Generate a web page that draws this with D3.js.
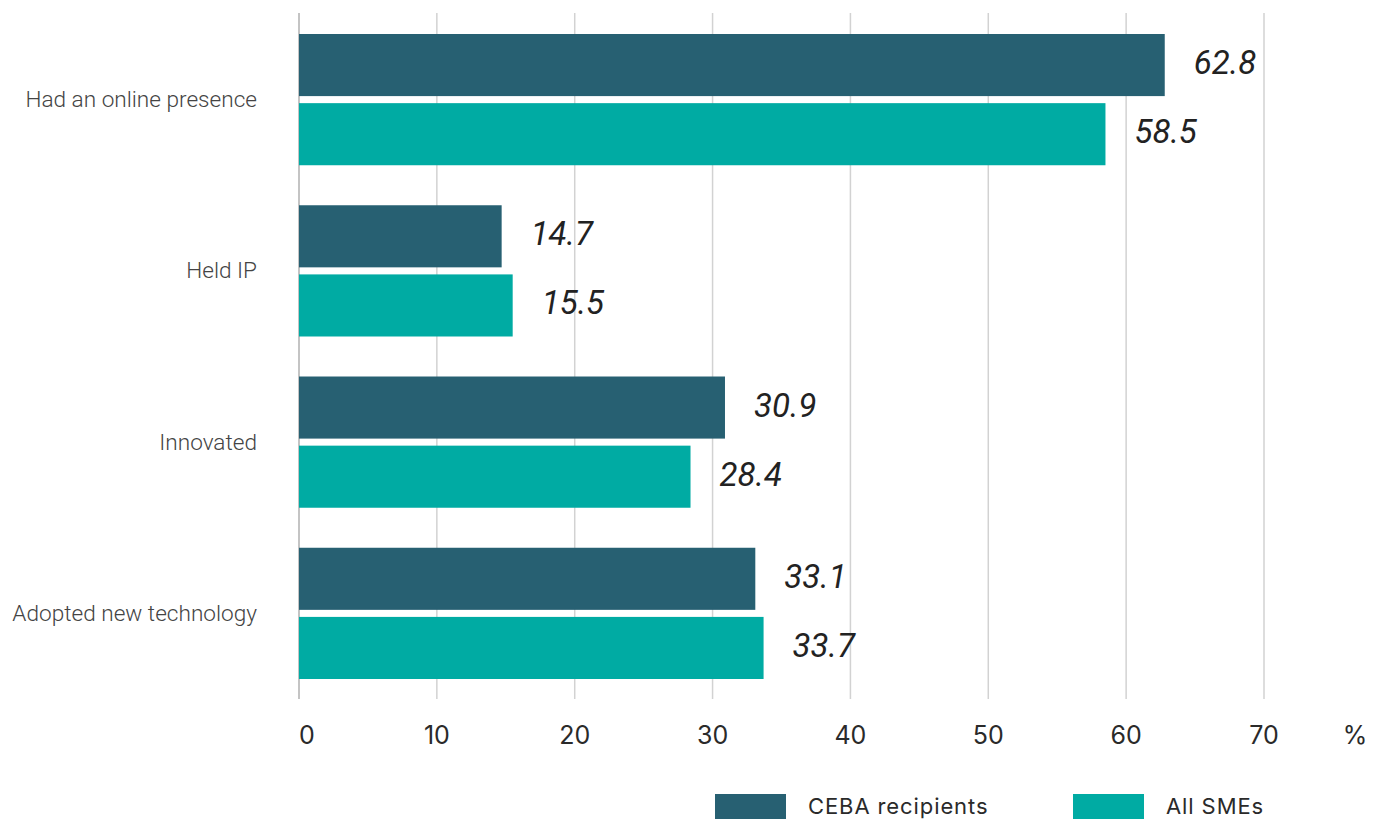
<!DOCTYPE html>
<html>
<head>
<meta charset="utf-8">
<script src="https://cdn.jsdelivr.net/npm/d3@7"></script>
<style>
  html, body { margin: 0; padding: 0; background: #fff; }
  svg { display: block; }
</style>
</head>
<body>
<svg id="chart" width="1382" height="819"></svg>
<script>
// Share of businesses reporting each activity, by group (%)
const categories = ["Had an online presence", "Held IP", "Innovated", "Adopted new technology"];
const seriesNames = ["CEBA recipients", "All SMEs"];
const cebaValues = [62.8, 14.7, 30.9, 33.1];
const smeValues = [58.5, 15.5, 28.4, 33.7];
const tickValues = [0, 10, 20, 30, 40, 50, 60, 70];
const seriesColors = ["#276072", "#00aba3"];

const rows = categories.map((c, i) => ({
  category: c,
  values: [
    { series: seriesNames[0], value: cebaValues[i] },
    { series: seriesNames[1], value: smeValues[i] }
  ]
}));

const svg = d3.select("#chart");

const x = d3.scaleLinear().domain([0, 70]).range([299, 1264]);
const y = d3.scaleBand().domain(categories).range([14, 699])
  .paddingInner(0.2336).paddingOuter(0.1168);
const ySub = d3.scaleBand().domain(seriesNames).range([0, y.bandwidth()])
  .paddingInner(0.102).paddingOuter(0);
const color = d3.scaleOrdinal().domain(seriesNames).range(seriesColors);

// vertical gridlines
svg.append("g").selectAll("line").data(tickValues).join("line")
  .attr("x1", d => x(d)).attr("x2", d => x(d))
  .attr("y1", 13).attr("y2", 699)
  .attr("stroke", d => d === 0 ? "#c4c4c4" : "#d2d2d2")
  .attr("stroke-width", d => d === 0 ? 2 : 1.5);

// tick labels along the bottom
svg.append("g").selectAll("text").data(tickValues).join("text")
  .attr("x", d => x(d))
  .attr("y", 744)
  .attr("text-anchor", d => d === 0 ? "start" : "middle")
  .attr("font-family", "Inter, 'Open Sans', sans-serif")
  .attr("font-size", 25)
  .attr("fill", "#2a2a2a")
  .text(d => d);

svg.append("text")
  .attr("x", 1355).attr("y", 744)
  .attr("text-anchor", "middle")
  .attr("font-family", "Inter, 'Open Sans', sans-serif")
  .attr("font-size", 25)
  .attr("fill", "#2a2a2a")
  .text("%");

// category labels
svg.append("g").selectAll("text").data(categories).join("text")
  .attr("x", 257)
  .attr("y", d => y(d) + y.bandwidth() / 2 + 7.5)
  .attr("text-anchor", "end")
  .attr("font-family", "Roboto, sans-serif")
  .attr("font-weight", 300)
  .attr("font-size", 22.6)
  .attr("fill", "#444")
  .text(d => d);

// bars and value labels
const groups = svg.append("g").selectAll("g").data(rows).join("g")
  .attr("transform", d => `translate(0,${y(d.category)})`);

groups.selectAll("rect").data(d => d.values).join("rect")
  .attr("x", x(0))
  .attr("y", d => ySub(d.series))
  .attr("width", d => x(d.value) - x(0))
  .attr("height", ySub.bandwidth())
  .attr("fill", d => color(d.series));

groups.selectAll("text").data(d => d.values).join("text")
  .attr("x", d => x(d.value) + 29)
  .attr("y", d => ySub(d.series) + ySub.bandwidth() / 2 + 9)
  .attr("font-family", "Roboto, sans-serif")
  .attr("font-style", "italic")
  .attr("font-size", 33)
  .attr("fill", "#222")
  .text(d => d.value.toFixed(1));

// legend
const legendX = [715, 1073];
const legend = svg.append("g").selectAll("g").data(seriesNames).join("g")
  .attr("transform", (d, i) => `translate(${legendX[i]},794)`);
legend.append("rect")
  .attr("width", 71).attr("height", 26)
  .attr("fill", d => color(d));
legend.append("text")
  .attr("x", 93).attr("y", 20)
  .attr("font-family", "Inter, 'Open Sans', sans-serif")
  .attr("font-size", 22)
  .attr("letter-spacing", 0.9)
  .attr("fill", "#2a2a2a")
  .text(d => d);
</script>
</body>
</html>
